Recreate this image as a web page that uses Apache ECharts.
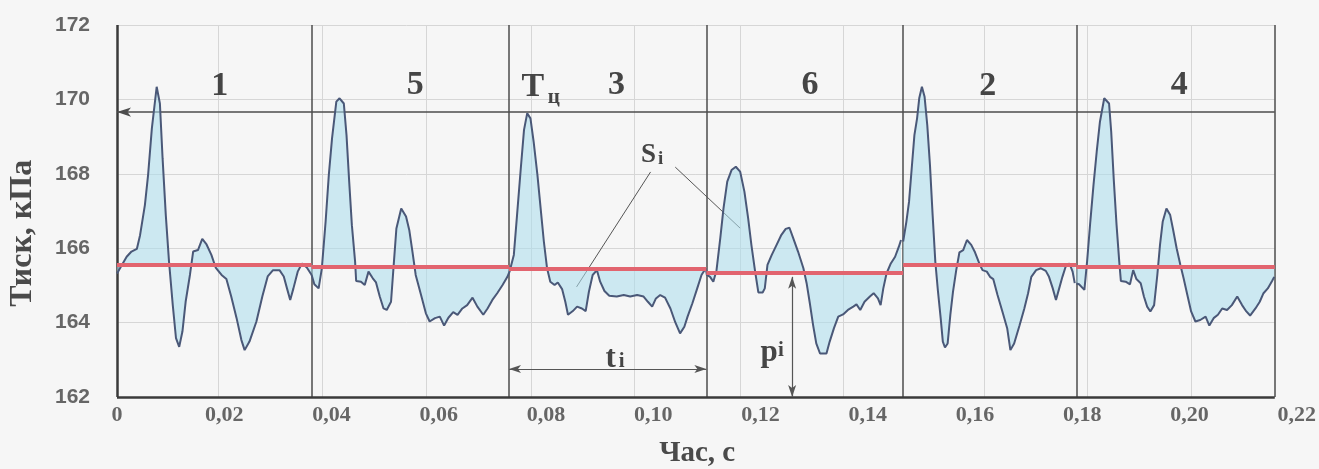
<!DOCTYPE html>
<html><head><meta charset="utf-8">
<style>html,body{margin:0;padding:0;background:#f6f6f6;} #c{width:1319px;height:469px;}</style>
<script src="https://cdn.jsdelivr.net/npm/echarts@6.0.0/dist/echarts.min.js"></script>
</head><body><div id="c"></div><script>
// ---- data (time in s, pressure in kPa) ----
const cycle1 = [[0.0000,165.32],[0.0018,165.77],[0.0027,165.91],[0.0037,165.98],[0.0043,166.35],[0.0052,167.16],[0.0058,167.97],[0.0065,169.22],[0.0074,170.34],[0.0080,169.89],[0.0085,168.42],[0.0091,166.89],[0.0097,165.64],[0.0104,164.47],[0.0110,163.58],[0.0116,163.35],[0.0122,163.76],[0.0128,164.56],[0.0136,165.28],[0.0142,165.91],[0.0151,165.95],[0.0159,166.25],[0.0167,166.10],[0.0176,165.82],[0.0184,165.48],[0.0195,165.28],[0.0204,165.17],[0.0213,164.70],[0.0223,164.12],[0.0232,163.53],[0.0238,163.26],[0.0247,163.49],[0.0260,164.03],[0.0271,164.70],[0.0281,165.24],[0.0291,165.41],[0.0303,165.41],[0.0311,165.24],[0.0317,164.92],[0.0323,164.61],[0.0329,164.92],[0.0337,165.37],[0.0345,165.59],[0.0354,165.48],[0.0363,165.28]];
const cycle2 = [[0.0363,165.28],[0.0368,165.03],[0.0376,164.92],[0.0382,165.46],[0.0389,166.71],[0.0395,167.97],[0.0401,168.95],[0.0409,169.94],[0.0415,170.03],[0.0423,169.89],[0.0428,169.04],[0.0433,167.79],[0.0438,166.62],[0.0444,165.64],[0.0446,165.12],[0.0455,165.10],[0.0462,165.01],[0.0469,165.37],[0.0477,165.19],[0.0483,165.08],[0.0490,164.70],[0.0497,164.38],[0.0503,164.34],[0.0511,164.56],[0.0516,165.55],[0.0521,166.53],[0.0530,167.07],[0.0539,166.85],[0.0545,166.49],[0.0551,165.90],[0.0557,165.28],[0.0567,164.74],[0.0576,164.25],[0.0583,164.03],[0.0593,164.12],[0.0602,164.16],[0.0610,163.92],[0.0618,164.13],[0.0627,164.28],[0.0635,164.21],[0.0644,164.38],[0.0653,164.47],[0.0663,164.67],[0.0672,164.43],[0.0683,164.21],[0.0691,164.38],[0.0700,164.61],[0.0709,164.79],[0.0719,165.01],[0.0728,165.23],[0.0732,165.37]];
const cycle3 = [[0.0732,165.37],[0.0734,165.41],[0.0740,165.82],[0.0746,166.89],[0.0753,168.15],[0.0759,169.18],[0.0765,169.63],[0.0771,169.49],[0.0777,168.86],[0.0784,167.97],[0.0790,167.07],[0.0796,166.18],[0.0802,165.46],[0.0808,165.10],[0.0816,165.01],[0.0822,165.08],[0.0830,164.90],[0.0836,164.56],[0.0841,164.21],[0.0850,164.31],[0.0858,164.43],[0.0867,164.38],[0.0874,164.31],[0.0880,164.83],[0.0887,165.28],[0.0895,165.41],[0.0901,165.10],[0.0909,164.85],[0.0918,164.72],[0.0932,164.70],[0.0945,164.74],[0.0957,164.70],[0.0970,164.74],[0.0982,164.70],[0.0990,164.56],[0.0998,164.43],[0.1005,164.65],[0.1013,164.74],[0.1022,164.67],[0.1032,164.38],[0.1041,164.01],[0.1050,163.71],[0.1058,163.89],[0.1064,164.16],[0.1073,164.52],[0.1082,164.92],[0.1090,165.28],[0.1098,165.46]];
const cycle4 = [[0.1098,165.46],[0.1100,165.28],[0.1106,165.23],[0.1112,165.10],[0.1118,165.41],[0.1125,166.27],[0.1131,167.07],[0.1138,167.79],[0.1146,168.10],[0.1154,168.19],[0.1162,168.06],[0.1170,167.52],[0.1177,166.80],[0.1183,166.09],[0.1190,165.37],[0.1196,164.81],[0.1204,164.81],[0.1208,164.92],[0.1213,165.55],[0.1221,165.82],[0.1230,166.09],[0.1239,166.36],[0.1247,166.52],[0.1254,166.55],[0.1261,166.27],[0.1270,165.91],[0.1280,165.46],[0.1286,165.06],[0.1292,164.52],[0.1298,163.94],[0.1304,163.44],[0.1311,163.17],[0.1323,163.17],[0.1329,163.49],[0.1337,163.85],[0.1345,164.16],[0.1354,164.22],[0.1363,164.34],[0.1373,164.43],[0.1379,164.49],[0.1386,164.34],[0.1394,164.56],[0.1404,164.70],[0.1411,164.79],[0.1419,164.65],[0.1424,164.47],[0.1429,164.92],[0.1435,165.32],[0.1443,165.59],[0.1451,165.77],[0.1458,166.04],[0.1462,166.22]];
const cycle5 = [[0.1466,166.18],[0.1472,166.71],[0.1477,167.25],[0.1482,168.15],[0.1487,169.04],[0.1492,169.49],[0.1496,170.03],[0.1501,170.34],[0.1506,170.07],[0.1511,169.31],[0.1516,168.24],[0.1521,166.89],[0.1526,165.64],[0.1531,164.83],[0.1536,164.12],[0.1540,163.49],[0.1544,163.33],[0.1549,163.44],[0.1554,164.21],[0.1559,164.83],[0.1565,165.41],[0.1571,165.89],[0.1578,165.95],[0.1585,166.22],[0.1593,166.09],[0.1600,165.89],[0.1608,165.59],[0.1614,165.41],[0.1622,165.37],[0.1628,165.23],[0.1634,165.17],[0.1642,164.74],[0.1652,164.25],[0.1660,163.85],[0.1666,163.26],[0.1673,163.44],[0.1683,163.92],[0.1692,164.38],[0.1699,164.79],[0.1705,165.23],[0.1714,165.41],[0.1723,165.46],[0.1732,165.39],[0.1738,165.23],[0.1745,164.92],[0.1751,164.61],[0.1757,164.92],[0.1763,165.23],[0.1769,165.50],[0.1776,165.59],[0.1782,165.37],[0.1786,165.06]];
const cycle6 = [[0.1789,165.05],[0.1794,165.03],[0.1804,164.88],[0.1809,165.64],[0.1815,166.71],[0.1821,167.70],[0.1827,168.60],[0.1833,169.40],[0.1841,170.03],[0.1850,169.89],[0.1854,169.13],[0.1859,167.79],[0.1864,166.62],[0.1869,165.64],[0.1872,165.12],[0.1881,165.10],[0.1889,165.03],[0.1895,165.41],[0.1901,165.17],[0.1909,165.06],[0.1915,164.70],[0.1921,164.43],[0.1927,164.30],[0.1934,164.47],[0.1940,165.28],[0.1945,166.09],[0.1950,166.71],[0.1957,167.07],[0.1964,166.89],[0.1969,166.53],[0.1976,166.00],[0.1983,165.55],[0.1989,165.19],[0.1996,164.74],[0.2003,164.30],[0.2011,164.03],[0.2020,164.07],[0.2030,164.16],[0.2037,163.92],[0.2045,164.12],[0.2053,164.21],[0.2061,164.38],[0.2070,164.34],[0.2079,164.47],[0.2089,164.70],[0.2098,164.47],[0.2106,164.30],[0.2113,164.19],[0.2123,164.38],[0.2131,164.56],[0.2138,164.79],[0.2146,164.92],[0.2154,165.12],[0.2158,165.23]];
const cycleMeans = [165.55, 165.50, 165.44, 165.33, 165.55, 165.50];
const cycleBounds = [0, 0.03627, 0.0731, 0.1099, 0.1466, 0.1789, 0.2159];
const cycleNames = ['1', '5', '3', '6', '2', '4'];
const peakLevel = 169.66;
const gridX = [0.01897, 0.03831, 0.05765, 0.07718, 0.09652, 0.11624, 0.13539, 0.1618, 0.18096, 0.2003];
const yTicks = [162, 164, 166, 168, 170, 172];
const xMin = 0, xMax = 0.22, xStep = 0.02;
const xTitle = 'Час, с';
const yTitle = 'Тиск, кПа';

const cycles = [cycle1, cycle2, cycle3, cycle4, cycle5, cycle6];
const xEnd = cycleBounds[cycleBounds.length - 1];
const SERIF = '"Liberation Serif", "Times New Roman", serif';
const SANS = '"Liberation Sans", Arial, sans-serif';

const chart = echarts.init(document.getElementById('c'), null, {renderer: 'canvas'});

const DARK = '#4d4d4d', LIGHT = '#d6d6d6';
const ls = (color, width) => ({color: color, width: width, type: 'solid'});
const frameLines = [];
yTicks.forEach(v => frameLines.push([{coord: [0, v], lineStyle: ls(LIGHT, 1)}, {coord: [xEnd, v]}]));
gridX.forEach(x => frameLines.push([{coord: [x, 162], lineStyle: ls(LIGHT, 1)}, {coord: [x, 172]}]));
cycleBounds.slice(1).forEach(x => frameLines.push([{coord: [x, 162], lineStyle: ls(DARK, 1.5)}, {coord: [x, 172]}]));
frameLines.push([{coord: [0, 162], lineStyle: ls('#3a3a3a', 2.5)}, {coord: [xEnd, 162]}]);
frameLines.push([{coord: [0, 162], lineStyle: ls('#3a3a3a', 2.5)}, {coord: [0, 172]}]);
frameLines.push([{coord: [0, peakLevel], symbol: 'arrow', symbolSize: [7, 14], lineStyle: ls(DARK, 1.5)}, {coord: [xEnd, peakLevel], symbol: 'none'}]);
// t_i arrow, p_i arrow, S_i leaders
frameLines.push([{coord: [cycleBounds[2], 162.75], symbol: 'arrow', symbolSize: [6, 12], lineStyle: ls('#555', 1.2)}, {coord: [cycleBounds[3], 162.75], symbol: 'arrow', symbolSize: [6, 12]}]);
frameLines.push([{coord: [0.1259, cycleMeans[3] - 0.1], symbol: 'arrow', symbolSize: [6, 12], lineStyle: ls('#555', 1.2)}, {coord: [0.1259, 162.0], symbol: 'arrow', symbolSize: [6, 12]}]);
frameLines.push([{coord: [0.0995, 168.05], symbol: 'none', lineStyle: ls('#555', 1)}, {coord: [0.0857, 164.96], symbol: 'none'}]);
frameLines.push([{coord: [0.1041, 168.18], symbol: 'none', lineStyle: ls('#555', 1)}, {coord: [0.1162, 166.54], symbol: 'none'}]);

const series = [{
  type: 'line', data: [[0, 162]], symbol: 'none', lineStyle: {opacity: 0}, silent: true, z: 1,
  markLine: {silent: true, symbol: 'none', label: {show: false}, animation: false, z: 1,
    lineStyle: {type: 'solid'}, data: frameLines}
}];
cycles.forEach((d, i) => {
  series.push({
    type: 'line', data: d, symbol: 'none', silent: true, z: 3,
    lineStyle: {color: '#4a5878', width: 2},
    areaStyle: {origin: cycleMeans[i], color: 'rgba(172,221,238,0.8)'},
    markLine: {silent: true, symbol: 'none', label: {show: false}, animation: false, z: 4,
      lineStyle: {color: '#e2646f', width: 4, type: 'solid'},
      data: [[{coord: [cycleBounds[i], cycleMeans[i]]}, {coord: [cycleBounds[i + 1], cycleMeans[i]]}]]}
  });
});

chart.setOption({
  animation: false,
  backgroundColor: '#f6f6f6',
  grid: {left: 117, right: 19, top: 25, bottom: 72},
  xAxis: {
    type: 'value', min: xMin, max: xMax, interval: xStep,
    axisLine: {show: false}, axisTick: {show: false}, splitLine: {show: false},
    axisLabel: {margin: 7, fontFamily: SERIF, fontWeight: 'bold', fontSize: 22, color: '#666666',
      formatter: v => v === 0 ? '0' : v.toFixed(2).replace('.', ',')}
  },
  yAxis: {
    type: 'value', min: 162, max: 172, interval: 2,
    axisLine: {show: false}, axisTick: {show: false}, splitLine: {show: false},
    axisLabel: {margin: 27, fontFamily: SANS, fontWeight: 'bold', fontSize: 21, color: '#666666'}
  },
  series: series
});

// text annotations (data coordinates)
const notes = [
  {t: cycleNames[0], x: 0.01916, y: 170.36, s: 34},
  {t: cycleNames[1], x: 0.0556, y: 170.39, s: 34},
  {t: 'Т', x: 0.07755, y: 170.33, s: 34},
  {t: 'ц', x: 0.08146, y: 170.06, s: 21},
  {t: cycleNames[2], x: 0.09317, y: 170.39, s: 34},
  {t: cycleNames[3], x: 0.12925, y: 170.39, s: 34},
  {t: cycleNames[4], x: 0.16236, y: 170.36, s: 34},
  {t: cycleNames[5], x: 0.19807, y: 170.39, s: 34},
  {t: 'S', x: 0.09913, y: 168.51, s: 27},
  {t: 'i', x: 0.10136, y: 168.40, s: 19},
  {t: 't', x: 0.09206, y: 163.02, s: 31},
  {t: 'i', x: 0.09410, y: 162.96, s: 21},
  {t: 'p', x: 0.12163, y: 163.18, s: 31},
  {t: 'i', x: 0.12380, y: 163.24, s: 21}
];
const g = notes.map(n => {
  const p = chart.convertToPixel({gridIndex: 0}, [n.x, n.y]);
  return {type: 'text', x: p[0], y: p[1], z: 10, silent: true,
    style: {text: n.t, fill: '#454545', font: 'bold ' + n.s + 'px ' + SERIF, align: 'center', verticalAlign: 'middle'}};
});
// axis titles
const xt = chart.convertToPixel({gridIndex: 0}, [0.1082, 162]);
g.push({type: 'text', x: xt[0], y: xt[1] + 57, silent: true,
  style: {text: xTitle, fill: '#4a4a4a', font: 'bold 29px ' + SERIF, align: 'center', verticalAlign: 'middle'}});
const yt = chart.convertToPixel({gridIndex: 0}, [0, 166.4]);
g.push({type: 'text', x: 23, y: yt[1], rotation: Math.PI / 2, silent: true,
  style: {text: yTitle, fill: '#4a4a4a', font: 'bold 32px ' + SERIF, align: 'center', verticalAlign: 'middle'}});
chart.setOption({graphic: g});
</script></body></html>
